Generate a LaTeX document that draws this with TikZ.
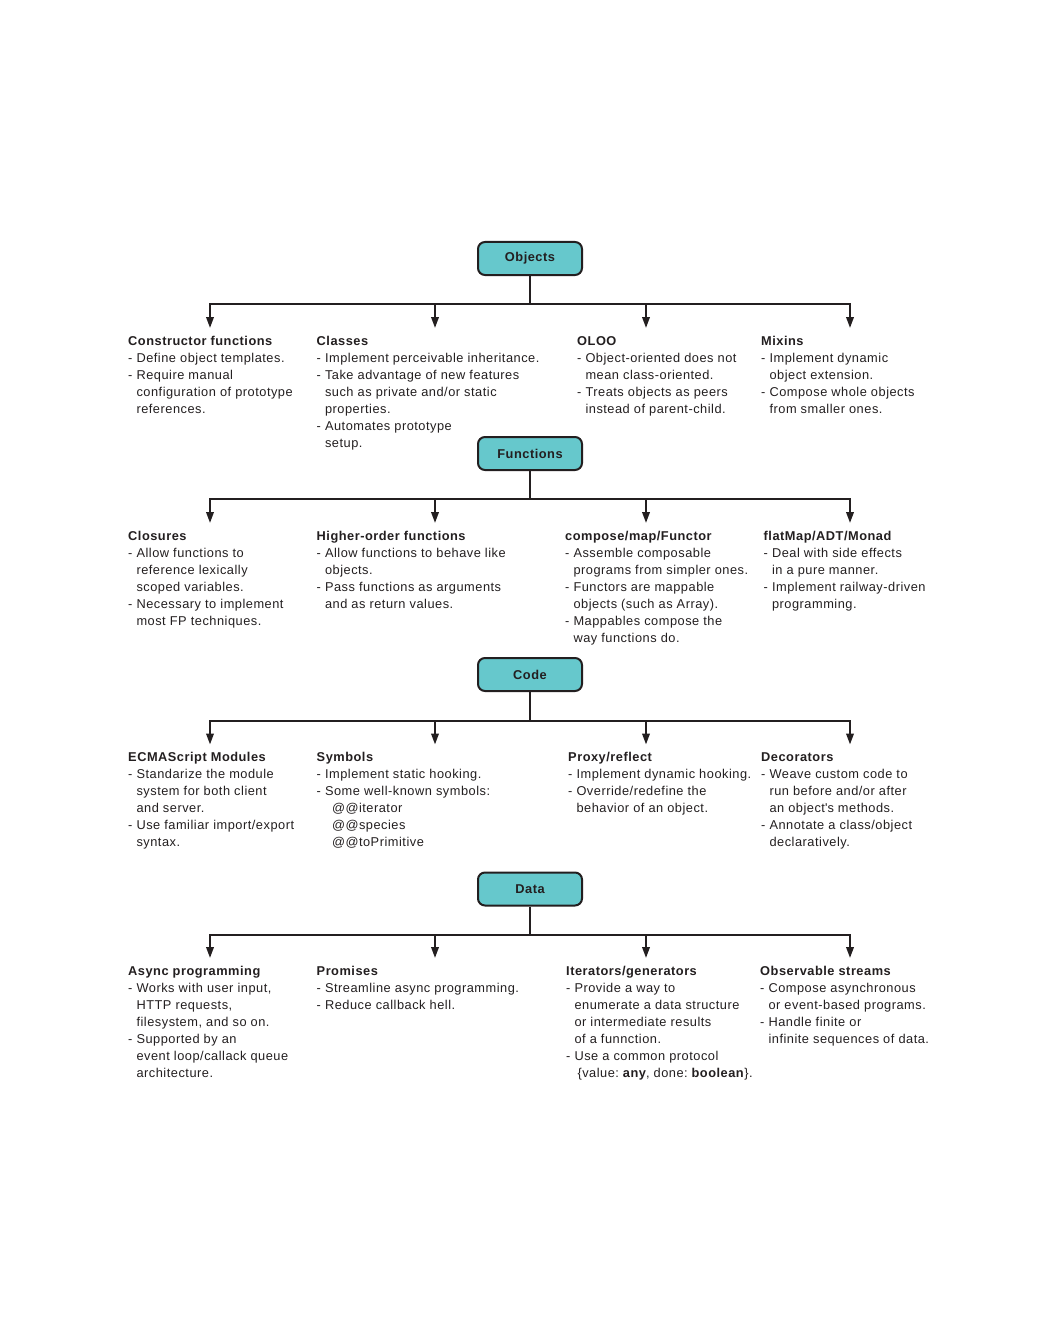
\documentclass[tikz,border=0pt]{standalone}
\usepackage{fontspec}
\setmainfont[LetterSpace=4]{Liberation Sans}
\usetikzlibrary{arrows.meta}
\definecolor{ink}{HTML}{231F20}
\definecolor{boxfill}{HTML}{66C8CC}
\newcommand{\fl}{\rule{0pt}{12pt}}
\newcommand{\cn}{\phantom{- }}
\tikzset{
  catbox/.style={draw=ink, fill=boxfill, line width=2pt, rounded corners=7pt,
    minimum width=104pt, minimum height=33pt, inner sep=0pt, text=ink,
    font=\fontsize{12.8}{15}\selectfont\bfseries},
  desc/.style={anchor=north west, inner sep=0pt, align=left, text=ink,
    font=\fontsize{12.8}{17}\selectfont},
  conn/.style={draw=ink, line width=2pt},
  arr/.style={conn, -{Triangle[length=11pt,width=7.5pt]}},
}
\begin{document}
\begin{tikzpicture}[x=1pt,y=-1pt]
\useasboundingbox[fill=white] (0,0) rectangle (1062,1332);

% ---------------- Objects ----------------
\node[catbox] (objects) at (530,258.5) {Objects};
\coordinate (oj) at (530,304);
\coordinate (ot1) at (210,328);
\coordinate (ot2) at (435,328);
\coordinate (ot3) at (646,328);
\coordinate (ot4) at (850,328);
\draw[conn] (objects.south) -- (oj);
\draw[arr] (oj) -| (ot1);
\draw[arr] (oj) -| (ot4);
\draw[arr] (ot2|-oj) -- (ot2);
\draw[arr] (ot3|-oj) -- (ot3);

\node[desc] (ctor) at (128,333) {\fl\textbf{Constructor functions}\\
- Define object templates.\\
- Require manual\\
\cn configuration of prototype\\
\cn references.};
\node[desc] (classes) at (316.5,333) {\fl\textbf{Classes}\\
- Implement perceivable inheritance.\\
- Take advantage of new features\\
\cn such as private and/or static\\
\cn properties.\\
- Automates prototype\\
\cn setup.};
\node[desc] (oloo) at (577,333) {\fl\textbf{OLOO}\\
- Object-oriented does not\\
\cn mean class-oriented.\\
- Treats objects as peers\\
\cn instead of parent-child.};
\node[desc] (mixins) at (761,333) {\fl\textbf{Mixins}\\
- Implement dynamic\\
\cn object extension.\\
- Compose whole objects\\
\cn from smaller ones.};

% ---------------- Functions ----------------
\node[catbox] (functions) at (530,453.5) {Functions};
\coordinate (fj) at (530,499);
\coordinate (ft1) at (210,523);
\coordinate (ft2) at (435,523);
\coordinate (ft3) at (646,523);
\coordinate (ft4) at (850,523);
\draw[conn] (functions.south) -- (fj);
\draw[arr] (fj) -| (ft1);
\draw[arr] (fj) -| (ft4);
\draw[arr] (ft2|-fj) -- (ft2);
\draw[arr] (ft3|-fj) -- (ft3);

\node[desc] (closures) at (128,528) {\fl\textbf{Closures}\\
- Allow functions to\\
\cn reference lexically\\
\cn scoped variables.\\
- Necessary to implement\\
\cn most FP techniques.};
\node[desc] (hof) at (316.5,528) {\fl\textbf{Higher-order functions}\\
- Allow functions to behave like\\
\cn objects.\\
- Pass functions as arguments\\
\cn and as return values.};
\node[desc] (compose) at (565,528) {\fl\textbf{compose/map/Functor}\\
- Assemble composable\\
\cn programs from simpler ones.\\
- Functors are mappable\\
\cn objects (such as Array).\\
- Mappables compose the\\
\cn way functions do.};
\node[desc] (flatmap) at (763.5,528) {\fl\textbf{flatMap/ADT/Monad}\\
- Deal with side effects\\
\cn in a pure manner.\\
- Implement railway-driven\\
\cn programming.};

% ---------------- Code ----------------
\node[catbox] (code) at (530,674.5) {Code};
\coordinate (cj) at (530,721);
\coordinate (ct1) at (210,744.5);
\coordinate (ct2) at (435,744.5);
\coordinate (ct3) at (646,744.5);
\coordinate (ct4) at (850,744.5);
\draw[conn] (code.south) -- (cj);
\draw[arr] (cj) -| (ct1);
\draw[arr] (cj) -| (ct4);
\draw[arr] (ct2|-cj) -- (ct2);
\draw[arr] (ct3|-cj) -- (ct3);

\node[desc] (esm) at (128,749.5) {\fl\textbf{ECMAScript Modules}\\
- Standarize the module\\
\cn system for both client\\
\cn and server.\\
- Use familiar import/export\\
\cn syntax.};
\node[desc] (symbols) at (316.5,749.5) {\fl\textbf{Symbols}\\
- Implement static hooking.\\
- Some well-known symbols:\\
\cn\hspace{7pt}@@iterator\\
\cn\hspace{7pt}@@species\\
\cn\hspace{7pt}@@toPrimitive};
\node[desc] (proxy) at (568,749.5) {\fl\textbf{Proxy/reflect}\\
- Implement dynamic hooking.\\
- Override/redefine the\\
\cn behavior of an object.};
\node[desc] (decorators) at (761,749.5) {\fl\textbf{Decorators}\\
- Weave custom code to\\
\cn run before and/or after\\
\cn an object\textquotesingle s methods.\\
- Annotate a class/object\\
\cn declaratively.};

% ---------------- Data ----------------
\node[catbox] (data) at (530,889) {Data};
\coordinate (dj) at (530,935);
\coordinate (dt1) at (210,958);
\coordinate (dt2) at (435,958);
\coordinate (dt3) at (646,958);
\coordinate (dt4) at (850,958);
\draw[conn] (data.south) -- (dj);
\draw[arr] (dj) -| (dt1);
\draw[arr] (dj) -| (dt4);
\draw[arr] (dt2|-dj) -- (dt2);
\draw[arr] (dt3|-dj) -- (dt3);

\node[desc] (async) at (128,963) {\fl\textbf{Async programming}\\
- Works with user input,\\
\cn HTTP requests,\\
\cn filesystem, and so on.\\
- Supported by an\\
\cn event loop/callack queue\\
\cn architecture.};
\node[desc] (promises) at (316.5,963) {\fl\textbf{Promises}\\
- Streamline async programming.\\
- Reduce callback hell.};
\node[desc] (iterators) at (566,963) {\fl\textbf{Iterators/generators}\\
- Provide a way to\\
\cn enumerate a data structure\\
\cn or intermediate results\\
\cn of a funnction.\\
- Use a common protocol\\
\cn\hspace{3pt}\{value:\kern-1.5pt{} \textbf{any}, done:\kern-1.5pt{} \textbf{boolean}\}.};
\node[desc] (observable) at (760,963) {\fl\textbf{Observable streams}\\
- Compose asynchronous\\
\cn or event-based programs.\\
- Handle finite or\\
\cn infinite sequences of data.};
\end{tikzpicture}
\end{document}
